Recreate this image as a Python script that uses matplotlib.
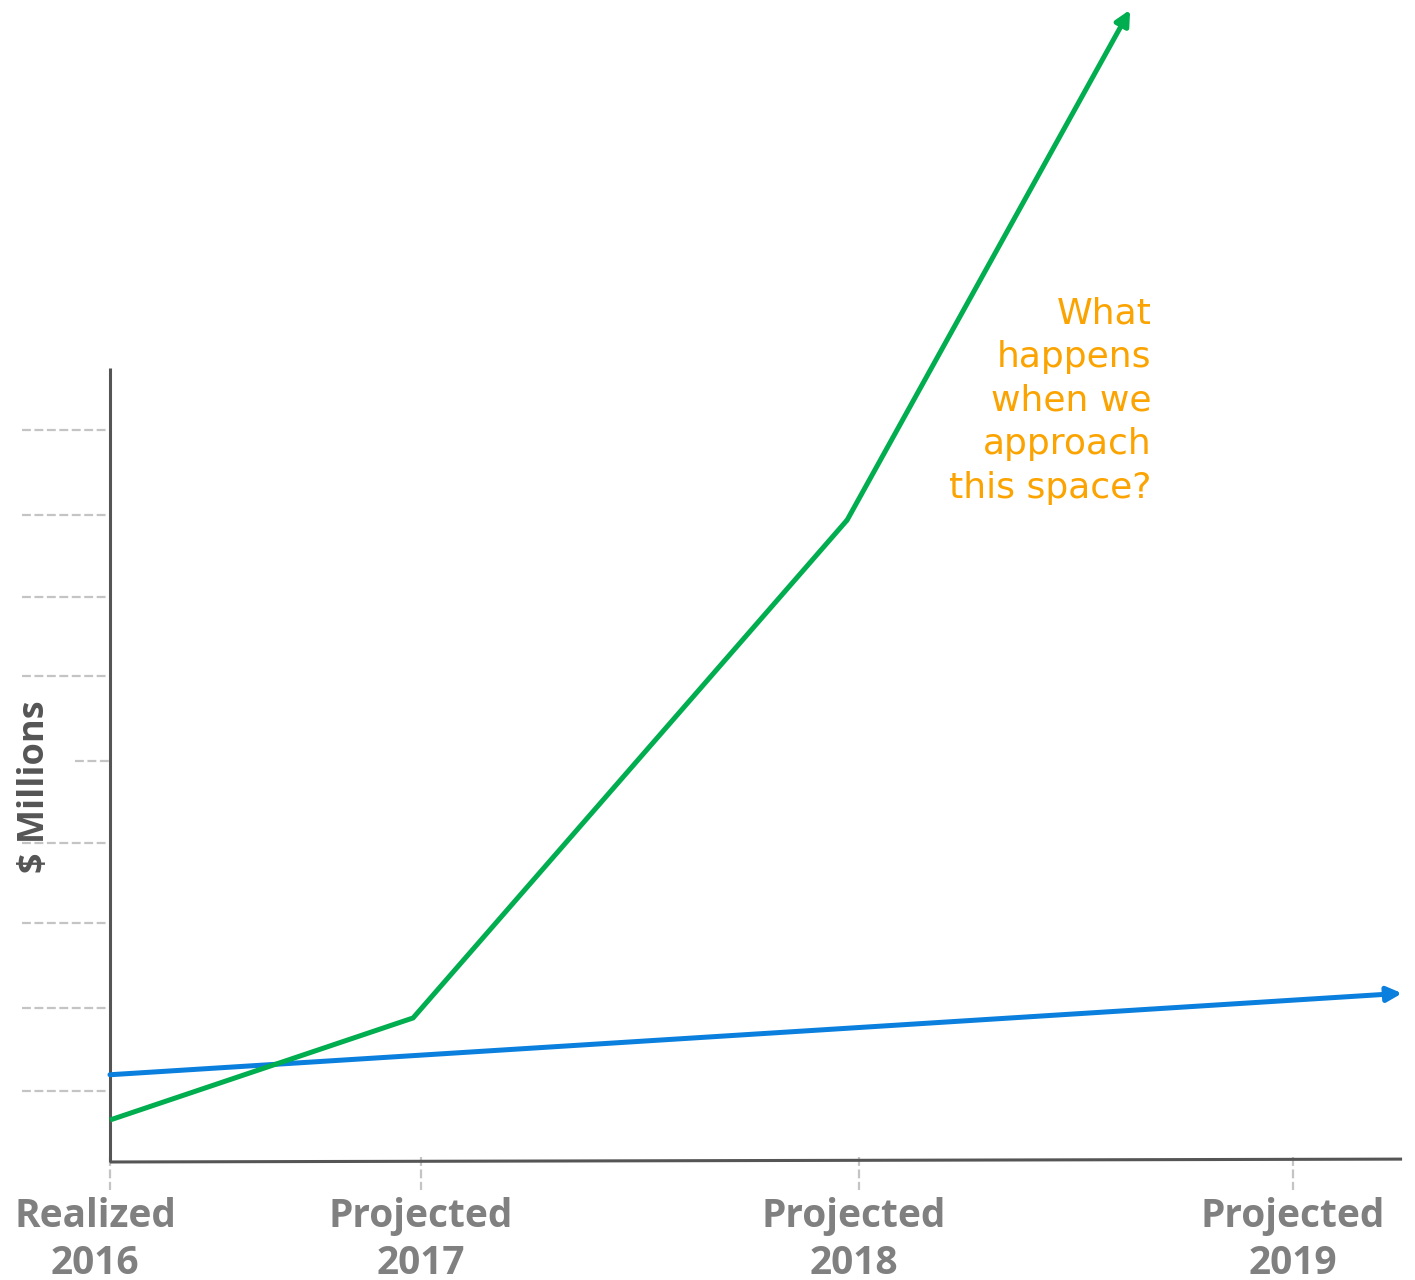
import matplotlib

matplotlib.use("Agg")
import matplotlib.pyplot as plt


# x: position along the timeline (one unit ~ one projected year), y: $ millions
tick_x = [0.0, 0.71, 1.71, 2.70]
tick_labels = ["Realized\n2016", "Projected\n2017", "Projected\n2018", "Projected\n2019"]
label_x = [-0.034, 0.71, 1.699, 2.70]

aggressive_x = [0.0, 0.692, 1.683, 2.329]
aggressive_y = [0.51, 1.75, 7.80, 14.00]

steady_x = [0.0, 2.95]
steady_y = [1.06, 2.05]

grid_y = [0.86, 1.87, 2.90, 3.88, 4.87, 5.91, 6.87, 7.86, 8.89]

question = "What\nhappens\nwhen we\napproach\nthis space?"

GREEN = "#00AD4F"
BLUE = "#0A7FDD"
ORANGE = "#FBA300"
AXIS = "#555555"
GRID = "#C4C4C4"
LABEL = "#808080"
FONT = ["Open Sans", "DejaVu Sans"]

fig = plt.figure(figsize=(14.15, 12.8), dpi=100)
ax = fig.add_axes([0, 0, 1, 1])
ax.set_axis_off()
ax.set_xlim(-0.2511, 2.9795)
ax.set_ylim(-1.434, 14.119)

# short dashed guides left of the value axis; two are shortened around the axis title
for y in grid_y:
    left = -0.080 if 4.0 < y < 5.5 else -0.201
    ax.plot([left, 0.0], [y, y], color=GRID, lw=1.6, ls=(0, (4, 1.6)), zorder=1)

# axes frame
ax.plot([0.0, 0.0], [0.0, 9.65], color=AXIS, lw=2.2, solid_capstyle="butt", zorder=2)
ax.plot([0.0, 2.95], [0.0, 0.035], color=AXIS, lw=2.2, solid_capstyle="butt", zorder=2)

for x in tick_x:
    ax.plot([x, x], [0.06, -0.34], color=GRID, lw=1.6, ls=(0, (4, 1.6)), zorder=1)

for x, lab in zip(label_x, tick_labels):
    ax.text(x, -0.43, lab, ha="center", va="top", fontsize=28, fontweight="bold",
            color=LABEL, linespacing=1.24, family=FONT)

ax.text(-0.172, 4.56, "$ Millions", rotation=90, ha="center", va="center",
        fontsize=26, fontweight="bold", color=AXIS, family=FONT)


def arrow_line(xs, ys, color):
    ax.plot(xs[:-1], ys[:-1], color=color, lw=3.6, solid_joinstyle="miter",
            solid_capstyle="butt", zorder=3)
    ax.annotate("", xy=(xs[-1], ys[-1]), xytext=(xs[-2], ys[-2]),
                arrowprops=dict(arrowstyle="-|>", color=color, lw=3.6,
                                mutation_scale=22, shrinkA=0, shrinkB=0),
                zorder=3)


arrow_line(steady_x, steady_y, BLUE)
arrow_line(aggressive_x, aggressive_y, GREEN)

ax.text(2.378, 10.52, question, ha="right", va="top", fontsize=26,
        color=ORANGE, linespacing=1.36, family="DejaVu Sans", fontweight="normal")

fig.savefig("out.png", dpi=100)
